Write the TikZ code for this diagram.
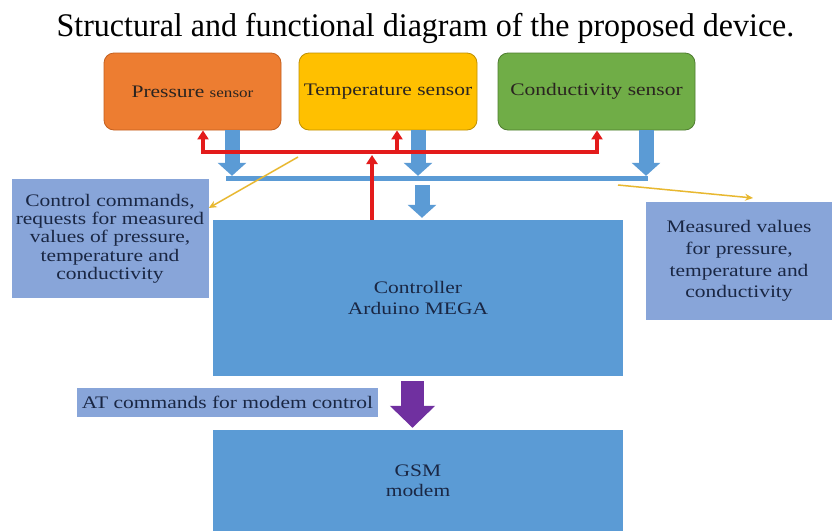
\documentclass[tikz,border=0pt]{standalone}
\usepackage{fontspec}
\setmainfont{Liberation Serif}
\newfontfamily\wide[FakeStretch=1.22]{Liberation Serif}
\newfontfamily\narrowtitle[FakeStretch=0.97]{Liberation Serif}
\usetikzlibrary{arrows.meta,calc}
\definecolor{orangeS}{HTML}{ED7D31}
\definecolor{orangeD}{HTML}{C4601F}
\definecolor{goldS}{HTML}{FFC000}
\definecolor{goldD}{HTML}{BF9000}
\definecolor{greenS}{HTML}{70AD47}
\definecolor{greenD}{HTML}{4E7D30}
\definecolor{blueM}{HTML}{5B9BD5}
\definecolor{noteB}{HTML}{88A5D9}
\definecolor{navy}{HTML}{1A2744}
\definecolor{sensT}{HTML}{2A2420}
\definecolor{redA}{HTML}{E31B1B}
\definecolor{yel}{HTML}{E8B830}
\definecolor{purp}{HTML}{7030A0}
\begin{document}
\begin{tikzpicture}[x=1pt,y=-1pt,
  redtip/.tip={Triangle[width=11pt,length=9pt]},
  sensorbox/.style={rectangle, rounded corners=10pt, minimum height=77pt, inner sep=0pt,
    line width=0.8pt, text=sensT, font=\wide\fontsize{17.6}{20}\selectfont},
  bluebox/.style={rectangle, fill=blueM, inner sep=0pt, align=center, text=navy,
    minimum width=410pt},
  notebox/.style={rectangle, fill=noteB, inner sep=0pt, align=center, text=navy},
  blockarrow/.style={draw=blueM, line width=15pt, -{Triangle[width=28pt,length=13pt]}},
  redline/.style={draw=redA, line width=3.5pt},
  yellowarrow/.style={draw=yel, line width=1.5pt, -{Stealth[width=7pt,length=8pt]}},
  purplearrow/.style={draw=purp, line width=23pt, -{Triangle[width=44pt,length=22pt]}}
]
\useasboundingbox (0,0) rectangle (832,531);
\fill[white] (0,0) rectangle (832,531);

\node[anchor=base, font=\narrowtitle\fontsize{33}{36}\selectfont] (title) at (425.5,36) {Structural and functional diagram of the proposed device.};

\node[sensorbox, fill=orangeS, draw=orangeD, minimum width=177pt] (p) at (192.5,91.5)
  {Pressure {\fontsize{14}{16}\selectfont sensor}};
\node[sensorbox, fill=goldS, draw=goldD, minimum width=178pt] (t) at (388,91.5)
  {Temperature sensor};
\node[sensorbox, fill=greenS, draw=greenD, minimum width=197pt] (c) at (596.5,91.5)
  {Conductivity sensor};

\node[rectangle, fill=blueM, inner sep=0pt, minimum width=422pt, minimum height=5pt] (bus) at (437,178.5) {};

\node[bluebox, minimum height=156pt, font=\wide\fontsize{17.6}{21}\selectfont] (ctrl) at (418,298)
  {Controller\\Arduino MEGA};
\node[bluebox, minimum height=101pt, font=\wide\fontsize{17.6}{20}\selectfont] (gsm) at (418,480.5)
  {GSM\\modem};

\node[notebox, minimum width=197pt, minimum height=119pt, font=\wide\fontsize{17.6}{18.3}\selectfont] (n1) at (110,238.5)
  {Control commands,\\requests for measured\\values of pressure,\\temperature and\\conductivity};
\node[notebox, minimum width=186pt, minimum height=118pt, font=\wide\fontsize{17.6}{21.7}\selectfont] (n2) at (739,261)
  {Measured values\\for pressure,\\temperature and\\conductivity};
\node[notebox, minimum width=301pt, minimum height=29pt, font=\wide\fontsize{17.6}{20}\selectfont] (n3) at (227.5,402.5)
  {AT commands for modem control};

% blue block arrows
\draw[blockarrow] (232,0 |- p.south) -- (232,0 |- bus.north);
\draw[blockarrow] (418,0 |- t.south) -- (418,0 |- bus.north);
\draw[blockarrow] (646,0 |- c.south) -- (646,0 |- bus.north);
\draw[blockarrow] ($(bus.south)+(-15,4)$) -- ($(ctrl.north)+(4,-2)$);

% red request lines
\draw[redline, redtip-redtip] (203,0 |- p.south) -- (203,152) -- (597,152) -- (597,0 |- c.south);
\draw[redline, -redtip] (397,152) -- (397,0 |- t.south);
\draw[redline, -redtip] (372,0 |- ctrl.north) -- (372,155);

% yellow pointers
\coordinate (y1) at (298,157);
\coordinate (y2) at (618,185);
\coordinate (y2e) at (753,198);
\draw[yellowarrow] (y1) -- (n1.east |- 0,208);
\draw[yellowarrow] (y2) -- (y2e);

% purple arrow
\draw[purplearrow] ($(ctrl.south)+(-5.5,5)$) -- ($(gsm.north)+(-5.5,-2)$);
\end{tikzpicture}
\end{document}
